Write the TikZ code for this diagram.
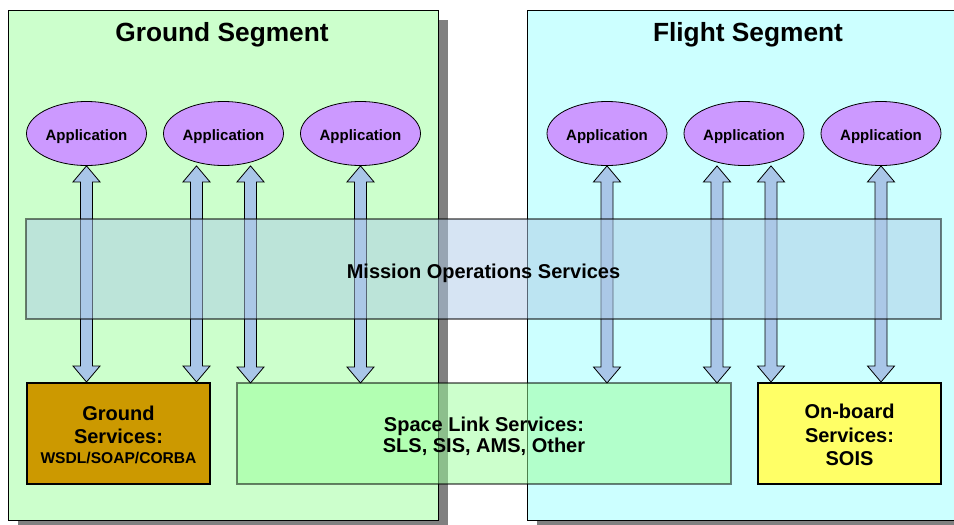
\documentclass[tikz,border=0pt]{standalone}
\usepackage{fontspec}
\setmainfont{Liberation Sans}
\usetikzlibrary{shapes.geometric,calc}

\definecolor{groundbg}{HTML}{CCFFCC}
\definecolor{flightbg}{HTML}{CCFFFF}
\definecolor{shadowgray}{HTML}{808080}
\definecolor{appviolet}{HTML}{CC99FF}
\definecolor{arrowblue}{HTML}{A9C6E8}
\definecolor{mosblue}{HTML}{AECAE7}
\definecolor{slsgreen}{HTML}{99FF99}
\definecolor{gsgold}{HTML}{CC9900}
\definecolor{obyellow}{HTML}{FFFF66}

\tikzset{
  segment/.style={draw=black, line width=0.8pt},
  segshadow/.style={fill=shadowgray, draw=none},
  segtitle/.style={anchor=base, font=\fontsize{26.3}{30}\selectfont\bfseries},
  app/.style={ellipse, draw=black, line width=0.8pt, fill=appviolet,
    minimum width=120pt, minimum height=64pt, inner sep=0pt,
    text height=13pt, text depth=0pt,
    font=\fontsize{15}{18}\selectfont\bfseries},
  svcbox/.style={rectangle, draw=black, line width=2pt, inner sep=0pt,
    minimum width=183pt, minimum height=101pt},
  boxtext/.style={anchor=base, inner sep=0pt, font=\fontsize{20}{23}\selectfont\bfseries},
  glassband/.style={rectangle, inner sep=0pt, line width=2pt,
    draw=black, draw opacity=0.5, fill opacity=0.5, text opacity=1},
  dblarrow/.style={fill=arrowblue, draw=black, line width=0.8pt,
    to path={
      let \p1=(\tikztostart), \p2=(\tikztotarget) in
      (\x1,\y1) -- (\x1+13.5pt,\y1-16pt) -- (\x1+6pt,\y1-16pt)
      -- (\x1+6pt,\y2+16pt) -- (\x1+13.5pt,\y2+16pt) -- (\x1,\y2)
      -- (\x1-13.5pt,\y2+16pt) -- (\x1-6pt,\y2+16pt)
      -- (\x1-6pt,\y1-16pt) -- (\x1-13.5pt,\y1-16pt) -- cycle}}
}

\begin{document}
\begin{tikzpicture}[x=1pt,y=-1pt]
\useasboundingbox (0,0) rectangle (954,525);

% segment panels with drop shadows
\fill[segshadow] (18,20) rectangle (448,530);
\draw[segment, fill=groundbg] (8,10) rectangle (438,520);
\fill[segshadow] (537,20) rectangle (970,530);
\draw[segment, fill=flightbg] (527,10) rectangle (960,520);

\node[segtitle] (gtitle) at (222,41.5) {Ground Segment};
\node[segtitle] (ftitle) at (748,41.5) {Flight Segment};

% applications
\node[app] (ga1) at (86.5,133.5) {Application};
\node[app] (ga2) at (223.5,133.5) {Application};
\node[app] (ga3) at (360.5,133.5) {Application};
\node[app] (fa1) at (607,133.5) {Application};
\node[app] (fa2) at (744,133.5) {Application};
\node[app] (fa3) at (881,133.5) {Application};

% service boxes
\node[svcbox, fill=gsgold] (gsvc) at (118.5,433.5) {};
\node[boxtext] (gsvc1) at (118.5,420) {Ground};
\node[boxtext] (gsvc2) at (118.5,443) {Services:};
\node[boxtext, font=\fontsize{15.6}{18}\selectfont\bfseries] (gsvc3) at (118.5,463) {WSDL/SOAP/CORBA};

\node[svcbox, fill=obyellow] (obs) at (849.5,433.5) {};
\node[boxtext] (obs1) at (849.5,418.5) {On-board};
\node[boxtext] (obs2) at (849.5,442) {Services:};
\node[boxtext] (obs3) at (849.5,465) {SOIS};

% arrow feet under the applications
\coordinate (g1) at (ga1.south);
\coordinate (g2) at ($(ga2.south)+(-27,0)$);
\coordinate (g3) at ($(ga2.south)+(27,0)$);
\coordinate (g4) at (ga3.south);
\coordinate (f1) at (fa1.south);
\coordinate (f2) at ($(fa2.south)+(-27,0)$);
\coordinate (f3) at ($(fa2.south)+(27,0)$);
\coordinate (f4) at (fa3.south);

% top edge of the space link layer
\coordinate (slstop) at (484,383);

\draw[dblarrow] (g1) to (g1 |- gsvc.north);
\draw[dblarrow] (g2) to (g2 |- gsvc.north);
\draw[dblarrow] (g3) to (g3 |- slstop);
\draw[dblarrow] (g4) to (g4 |- slstop);
\draw[dblarrow] (f1) to (f1 |- slstop);
\draw[dblarrow] (f2) to (f2 |- slstop);
\draw[dblarrow] (f3) to (f3 |- obs.north);
\draw[dblarrow] (f4) to (f4 |- obs.north);

% translucent service layers
\node[glassband, fill=mosblue, minimum width=915pt, minimum height=100pt] (mos) at (483.5,269) {};
\node[boxtext] (mostext) at (483.5,278) {Mission Operations Services};
\node[glassband, fill=slsgreen, minimum width=494pt, minimum height=101pt] (sls) at (484,433.5) {};
\node[boxtext] (sls1) at (484,431.5) {Space Link Services:};
\node[boxtext] (sls2) at (484,452.5) {SLS, SIS, AMS, Other};
\end{tikzpicture}
\end{document}
